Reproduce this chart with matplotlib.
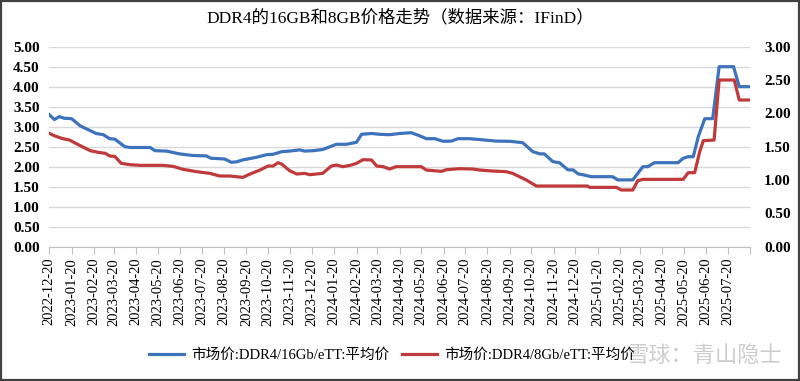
import matplotlib
matplotlib.use("Agg")
import matplotlib.pyplot as plt
from matplotlib.patches import Rectangle
from matplotlib.ticker import FuncFormatter
import pandas as pd

plt.rcParams['font.family'] = ['Liberation Serif', 'Noto Sans CJK SC', 'DejaVu Sans']

title = "DDR4的16GB和8GB价格走势（数据来源：IFinD）"
label_16 = "市场价:DDR4/16Gb/eTT:平均价"
label_8 = "市场价:DDR4/8Gb/eTT:平均价"
watermark = "雪球：青山隐士"

dates_16 = ["2022-12-20", "2022-12-27", "2023-01-03", "2023-01-10", "2023-01-20", "2023-02-01",
            "2023-02-15", "2023-02-23", "2023-03-05", "2023-03-14", "2023-03-21", "2023-04-04",
            "2023-04-11", "2023-05-09", "2023-05-16", "2023-06-01", "2023-06-19", "2023-07-07",
            "2023-07-26", "2023-08-02", "2023-08-14", "2023-08-21", "2023-08-30", "2023-09-06",
            "2023-09-15", "2023-10-04", "2023-10-18", "2023-10-27", "2023-11-08", "2023-11-19",
            "2023-12-03", "2023-12-10", "2023-12-22", "2024-01-04", "2024-01-23", "2024-02-06",
            "2024-02-20", "2024-02-27", "2024-03-12", "2024-03-23", "2024-04-06", "2024-04-20",
            "2024-05-06", "2024-05-18", "2024-05-27", "2024-06-08", "2024-06-19", "2024-07-01",
            "2024-07-10", "2024-07-26", "2024-08-14", "2024-09-01", "2024-09-20", "2024-10-08",
            "2024-10-22", "2024-11-01", "2024-11-07", "2024-11-19", "2024-11-28", "2024-12-10",
            "2024-12-17", "2024-12-24", "2025-01-02", "2025-01-11", "2025-02-10", "2025-02-17",
            "2025-03-10", "2025-03-17", "2025-03-24", "2025-03-31", "2025-04-09", "2025-05-12",
            "2025-05-19", "2025-05-26", "2025-06-02", "2025-06-09", "2025-06-18", "2025-06-29",
            "2025-07-08", "2025-07-28", "2025-08-05", "2025-08-19"]
price_16 = [3.30, 3.18, 3.25, 3.21, 3.20, 3.02,
            2.90, 2.83, 2.80, 2.70, 2.69, 2.50,
            2.48, 2.48, 2.40, 2.39, 2.32, 2.28,
            2.27, 2.21, 2.20, 2.19, 2.11, 2.12,
            2.17, 2.235, 2.30, 2.31, 2.375, 2.39,
            2.42, 2.39, 2.40, 2.43, 2.56, 2.56,
            2.61, 2.81, 2.83, 2.81, 2.80, 2.83,
            2.85, 2.77, 2.70, 2.70, 2.635, 2.64,
            2.70, 2.70, 2.67, 2.64, 2.635, 2.60,
            2.375, 2.32, 2.32, 2.125, 2.10, 1.92,
            1.92, 1.82, 1.79, 1.75, 1.75, 1.67,
            1.67, 1.835, 2.00, 2.00, 2.10, 2.10,
            2.21, 2.25, 2.25, 2.75, 3.20, 3.20,
            4.50, 4.50, 4.00, 4.00]

dates_8 = ["2022-12-20", "2022-12-28", "2023-01-08", "2023-01-17", "2023-02-01", "2023-02-15",
           "2023-02-26", "2023-03-08", "2023-03-14", "2023-03-21", "2023-03-30", "2023-04-11",
           "2023-04-25", "2023-05-27", "2023-06-10", "2023-06-24", "2023-07-13", "2023-07-31",
           "2023-08-14", "2023-08-28", "2023-09-15", "2023-09-25", "2023-10-09", "2023-10-20",
           "2023-10-27", "2023-11-03", "2023-11-08", "2023-11-19", "2023-11-29", "2023-12-10",
           "2023-12-17", "2023-12-26", "2024-01-04", "2024-01-16", "2024-01-23", "2024-02-01",
           "2024-02-11", "2024-02-20", "2024-02-29", "2024-03-12", "2024-03-19", "2024-03-28",
           "2024-04-06", "2024-04-15", "2024-04-29", "2024-05-20", "2024-05-27", "2024-06-17",
           "2024-06-24", "2024-07-12", "2024-07-31", "2024-08-09", "2024-08-27", "2024-09-15",
           "2024-09-24", "2024-10-13", "2024-10-27", "2025-01-06", "2025-01-09", "2025-02-15",
           "2025-02-22", "2025-03-10", "2025-03-17", "2025-03-24", "2025-05-19", "2025-05-26",
           "2025-06-04", "2025-06-11", "2025-06-16", "2025-07-01", "2025-07-08", "2025-07-29",
           "2025-08-05", "2025-08-19"]
price_8 = [1.70, 1.66, 1.62, 1.60, 1.515, 1.44,
           1.415, 1.40, 1.36, 1.355, 1.25, 1.23,
           1.22, 1.22, 1.205, 1.16, 1.125, 1.10,
           1.06, 1.06, 1.04, 1.09, 1.15, 1.21,
           1.21, 1.26, 1.24, 1.14, 1.09, 1.10,
           1.08, 1.09, 1.10, 1.21, 1.225, 1.20,
           1.22, 1.25, 1.305, 1.30, 1.21, 1.20,
           1.165, 1.20, 1.20, 1.20, 1.15, 1.13,
           1.155, 1.17, 1.165, 1.15, 1.135, 1.125,
           1.10, 1.00, 0.91, 0.91, 0.89, 0.89,
           0.85, 0.85, 0.99, 1.01, 1.01, 1.11,
           1.11, 1.425, 1.59, 1.60, 2.50, 2.50,
           2.20, 2.20]

tick_dates = pd.date_range("2022-12-01", "2025-08-01", freq="MS") + pd.Timedelta(days=19)
last_label = pd.Timestamp("2025-07-20")
left_ticks = [0, 0.5, 1, 1.5, 2, 2.5, 3, 3.5, 4, 4.5, 5]
right_ticks = [0, 0.5, 1, 1.5, 2, 2.5, 3]

blue = "#3D73BD"
red = "#C0393B"

fig = plt.figure(figsize=(8, 3.81), dpi=100)
ax = fig.add_axes([0.0616, 0.3525, 0.876, 0.525])
ax2 = ax.twinx()

x16 = pd.to_datetime(dates_16)
x8 = pd.to_datetime(dates_8)
l1, = ax.plot(x16, price_16, color=blue, lw=2.3, solid_joinstyle='round', zorder=3)
l2, = ax2.plot(x8, price_8, color=red, lw=2.3, solid_joinstyle='round', zorder=3)

ax.set_ylim(0, 5)
ax2.set_ylim(0, 3)
ax.set_yticks(left_ticks)
ax2.set_yticks(right_ticks)
fmt = FuncFormatter(lambda v, p: f"{v:.2f}")
ax.yaxis.set_major_formatter(fmt)
ax2.yaxis.set_major_formatter(fmt)
ax.grid(axis='y', color='#D9D9D9', lw=1)
ax.set_axisbelow(True)

ax.set_xlim(pd.Timestamp("2022-12-20"), pd.Timestamp("2025-08-20"))
ax.set_xticks(tick_dates)
ax.set_xticklabels([d.strftime("%Y-%m-%d") if d <= last_label else "" for d in tick_dates],
                   rotation=90, fontsize=10.5)
ax.tick_params(axis='x', length=5, color='#BFBFBF', pad=3)
ax.tick_params(axis='y', length=0, pad=7)
ax2.tick_params(axis='y', length=0, pad=10)
for lab in ax.get_yticklabels() + ax2.get_yticklabels():
    lab.set_fontsize(11)
    lab.set_fontweight('bold')

for a in (ax, ax2):
    for s in ('top', 'left', 'right'):
        a.spines[s].set_visible(False)
    a.spines['bottom'].set_color('#BFBFBF')
ax2.spines['bottom'].set_visible(False)

fig.text(0.5, 0.952, title, ha='center', va='center', fontsize=12.5)

fig.legend([l1, l2], [label_16, label_8], loc='center', bbox_to_anchor=(0.49, 0.068),
           ncol=2, frameon=False, fontsize=10.5, handlelength=2.4, columnspacing=0.8,
           handletextpad=0.5)

fig.text(0.88, 0.068, watermark, ha='center', va='center', fontsize=16,
         color='#C8C8C8', alpha=0.9, family=['Noto Sans CJK SC'])

fig.patches.append(Rectangle((0.0015, 0.002), 0.997, 0.995, transform=fig.transFigure,
                             fill=False, edgecolor='#404040', lw=1.6))

fig.savefig("out.png", dpi=100)
